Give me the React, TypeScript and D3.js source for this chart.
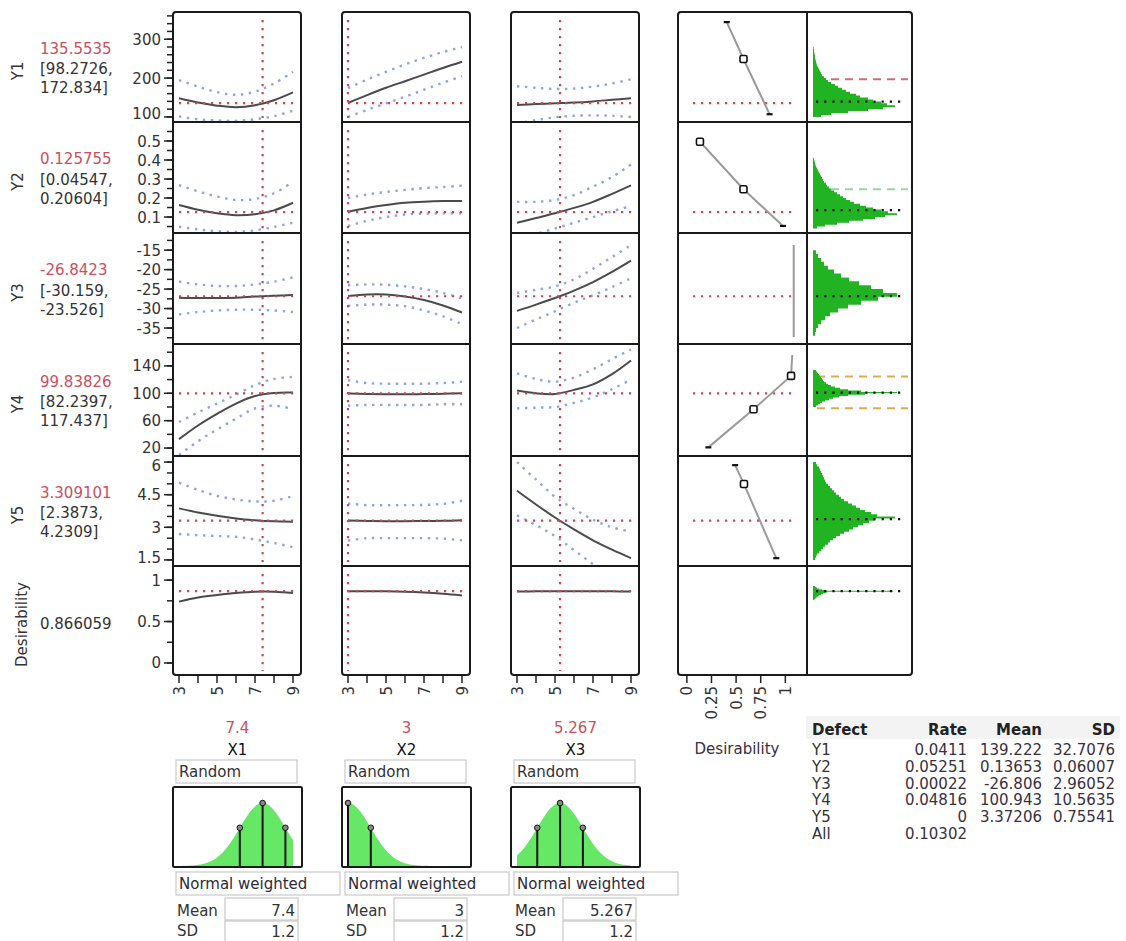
import React from "react";
import * as d3 from "d3";

const FONT = "'DejaVu Sans', Verdana, sans-serif";

// ---------------- data ----------------
const RESPONSES = ["Y1", "Y2", "Y3", "Y4", "Y5", "Desirability"];
const CURRENT_VALUES = [135.5535, 0.125755, -26.8423, 99.83826, 3.309101, 0.866059];
const CURRENT_LABELS = ["135.5535", "0.125755", "-26.8423", "99.83826", "3.309101", "0.866059"];
const INTERVAL_LABELS = [
  ["[98.2726,", "172.834]"],
  ["[0.04547,", "0.20604]"],
  ["[-30.159,", "-23.526]"],
  ["[82.2397,", "117.437]"],
  ["[2.3873,", "4.2309]"],
  [],
];
const Y_DOMAINS = [[87, 370], [0.016, 0.6], [-39.1, -10.6], [8.4, 172], [1.22, 6.28], [-0.145, 1.17]];
const Y_MAJOR_TICKS = [
  [100, 200, 300],
  [0.1, 0.2, 0.3, 0.4, 0.5],
  [-35, -30, -25, -20, -15],
  [20, 60, 100, 140],
  [1.5, 3, 4.5, 6],
  [0, 0.5, 1],
];
const Y_MINOR_STEPS = [20, 0.05, 2.5, 20, 0.5, 0.25];

const FACTORS = ["X1", "X2", "X3"];
const FACTOR_SETTINGS = [7.4, 3, 5.267];
const FACTOR_LABELS = ["7.4", "3", "5.267"];
const FACTOR_MEANS = [7.4, 3, 5.267];
const FACTOR_SDS = [1.2, 1.2, 1.2];
const FACTOR_MEAN_TEXT = ["7.4", "3", "5.267"];
const FACTOR_SD_TEXT = ["1.2", "1.2", "1.2"];
const X_GRID = [3, 4, 5, 6, 7, 8, 9];
const X_TICKS = [3, 4, 5, 6, 7, 8, 9];
const X_TICK_LABELS = [3, 5, 7, 9];

// profile traces: one row per factor (X1, X2, X3), values at X_GRID
const Y1_PRED = [[148, 137, 129, 125, 130, 143, 163], [136, 156, 175, 192, 209, 226, 242], [131, 133, 135, 137, 140, 144, 148]];
const Y1_HI = [[195, 178, 164, 157, 165, 186, 216], [174, 196, 216, 235, 252, 267, 280], [179, 175, 172, 173, 178, 186, 197]];
const Y1_LO = [[101, 94, 91, 90, 94, 102, 116], [100, 118, 135, 152, 170, 188, 205], [83, 92, 99, 103, 104, 103, 100]];

const Y2_PRED = [[0.163, 0.138, 0.12, 0.11, 0.115, 0.135, 0.175], [0.128, 0.148, 0.163, 0.175, 0.181, 0.184, 0.184], [0.07, 0.095, 0.12, 0.148, 0.18, 0.222, 0.267]];
const Y2_HI = [[0.268, 0.235, 0.208, 0.19, 0.195, 0.225, 0.286], [0.2, 0.218, 0.232, 0.243, 0.252, 0.258, 0.265], [0.18, 0.18, 0.19, 0.215, 0.26, 0.31, 0.377]];
const Y2_LO = [[0.049, 0.035, 0.025, 0.022, 0.03, 0.048, 0.07], [0.053, 0.08, 0.1, 0.113, 0.118, 0.12, 0.12], [-0.03, 0.01, 0.04, 0.07, 0.1, 0.13, 0.158]];

const Y3_PRED = [[-27.2, -27.3, -27.3, -27.2, -26.9, -26.7, -26.5], [-26.8, -26.4, -26.4, -26.9, -27.8, -29.2, -31], [-30.6, -29, -27.3, -25.4, -23.2, -20.6, -17.7]];
const Y3_HI = [[-23.1, -23.8, -24.2, -24.2, -23.8, -23.1, -22], [-24, -23.8, -23.9, -24.3, -25, -26, -27.4], [-26, -25.2, -24.3, -22.5, -19.8, -16.8, -13.7]];
const Y3_LO = [[-31.5, -30.9, -30.5, -30.3, -30.3, -30.5, -30.9], [-29.3, -29, -29, -29.4, -30.5, -32, -34], [-35, -32.8, -30.7, -28.5, -26.6, -24.5, -22.2]];

const Y4_PRED = [[33, 53, 70, 85, 96, 100.5, 101], [99.8, 99, 98.5, 98.5, 98.8, 99.3, 100], [104, 100, 99, 105, 113, 128, 148]];
const Y4_HI = [[58, 72, 85, 98, 112, 121, 124], [119, 115, 114, 114, 114, 115, 117], [129, 121, 117, 123, 135, 150, 164]];
const Y4_LO = [[10, 30, 47, 63, 78, 82, 77], [82, 83, 83, 83, 83, 84, 84], [78, 79, 80, 86, 94, 106, 120]];

const Y5_PRED = [[3.87, 3.68, 3.53, 3.41, 3.33, 3.28, 3.26], [3.31, 3.29, 3.28, 3.28, 3.29, 3.3, 3.33], [4.68, 4.05, 3.45, 2.9, 2.4, 1.97, 1.58]];
const Y5_HI = [[5.05, 4.72, 4.45, 4.28, 4.19, 4.22, 4.44], [4.1, 4.02, 4.02, 4.02, 4.03, 4.08, 4.22], [6.0, 5.2, 4.4, 3.85, 3.35, 3.0, 2.8]];
const Y5_LO = [[2.69, 2.64, 2.6, 2.56, 2.44, 2.28, 2.08], [2.39, 2.5, 2.5, 2.5, 2.5, 2.48, 2.4], [3.55, 3.1, 2.6, 1.95, 1.3, 0.6, 0.0]];

const DES_PRED = [[0.74, 0.79, 0.82, 0.845, 0.86, 0.86, 0.845], [0.866, 0.866, 0.865, 0.86, 0.85, 0.835, 0.815], [0.862, 0.864, 0.866, 0.866, 0.865, 0.864, 0.862]];

// desirability functions (desirability, response value) per response
const DES_FN_D = [[0.405, 0.575, 0.84], [0.133, 0.575, 0.976], [1.085, 1.085], [0.218, 0.677, 1.058, 1.07], [0.49, 0.58, 0.908]];
const DES_FN_V = [[344, 249, 107], [0.496, 0.246, 0.053], [-13.7, -37.3], [21, 76.6, 125.4, 156], [5.86, 4.99, 1.58]];
const DES_FN_MARK = [["end", "box", "end"], ["box", "box", "end"], ["", ""], ["end", "box", "box", ""], ["end", "box", "end"]];
const DES_TICKS = [0, 0.25, 0.5, 0.75, 1];
const DES_TICK_LABELS = ["0", "0.25", "0.5", "0.75", "1"];

// simulated histograms
const HIST_START = [100, 0.04, -37, 80, 1.5, 0.76];
const HIST_STEP = [5, 0.01, 1, 2, 0.1, 0.01];
const Y1_HIST = [8, 18, 35, 55, 70, 82, 74, 68, 60, 55, 47, 43, 37, 33, 29, 25, 22, 18, 15, 13, 11, 9, 8, 7, 6, 5, 4, 3.5, 3, 2.5, 2, 2, 1.5, 1, 1, 0.5];
const Y2_HIST = [4, 12, 24, 36, 50, 62, 72, 84, 75, 68, 60, 53, 47, 41, 37, 33, 30, 27, 24, 21, 18, 16, 14, 13, 11, 10, 9, 8, 7, 6, 5, 4, 3, 2.5, 2, 1.5, 1];
const Y3_HIST = [2, 3, 5, 8, 12, 17, 25, 35, 48, 65, 84, 70, 58, 46, 36, 28, 21, 15, 11, 8, 5, 3];
const Y4_HIST = [3, 5, 7, 9, 12, 16, 20, 26, 35, 52, 84, 48, 35, 27, 22, 18, 15, 13, 11, 10, 9, 8, 7, 6, 5, 4, 3];
const Y5_HIST = [2, 3, 4, 6, 8, 10, 12, 15, 17, 20, 23, 27, 31, 36, 40, 45, 50, 56, 62, 82, 64, 58, 52, 47, 43, 39, 35, 31, 28, 26, 23, 21, 19, 17, 15, 13, 12, 11, 10, 9, 8, 7, 6, 4, 3];
const DES_HIST = [1, 2, 3, 4, 5, 6, 8, 10, 12, 14, 80, 12, 9, 6, 4, 3, 2];
const HIST_MEANS = [139.222, 0.13653, -26.806, 100.943, 3.37206, 0.866059];
const SPEC_ROWS = [0, 1, 3, 3];
const SPEC_VALUES = [197, 0.246, 124.4, 78];
const SPEC_COLORS = ["#c8727e", "#9fd4a8", "#e2a94e", "#e2a94e"];

// defect table
const DEFECT_NAMES = ["Y1", "Y2", "Y3", "Y4", "Y5", "All"];
const DEFECT_RATES = ["0.0411", "0.05251", "0.00022", "0.04816", "0", "0.10302"];
const DEFECT_MEANS = ["139.222", "0.13653", "-26.806", "100.943", "3.37206", ""];
const DEFECT_SDS = ["32.7076", "0.06007", "2.96052", "10.5635", "0.75541", ""];

// ---------------- layout ----------------
const ROW_EDGES = [12, 122, 233, 344, 456, 566, 675];
const COL_LEFT = [173, 342, 511];
const COL_W = 128;
const DES_L = 678;
const DES_R = 807;
const HIST_R = 912;
const RED = "#c9505e";
const RED_LINE = "#c04a5c";
const BLUE = "#8fa2e2";
const TXT = "#333";

const PROFILES = [
  { pred: Y1_PRED, lo: Y1_LO, hi: Y1_HI },
  { pred: Y2_PRED, lo: Y2_LO, hi: Y2_HI },
  { pred: Y3_PRED, lo: Y3_LO, hi: Y3_HI },
  { pred: Y4_PRED, lo: Y4_LO, hi: Y4_HI },
  { pred: Y5_PRED, lo: Y5_LO, hi: Y5_HI },
  { pred: DES_PRED, lo: null as null | number[][], hi: null as null | number[][] },
];
const HISTS = [Y1_HIST, Y2_HIST, Y3_HIST, Y4_HIST, Y5_HIST, DES_HIST];

function yScale(r: number) {
  return d3.scaleLinear().domain(Y_DOMAINS[r]).range([ROW_EDGES[r + 1], ROW_EDGES[r]]);
}
function xScale(c: number) {
  return d3.scaleLinear().domain([3, 9]).range([COL_LEFT[c] + 6, COL_LEFT[c] + 120]);
}
const dScale = d3.scaleLinear().domain([-0.09, 1.22]).range([DES_L, DES_R]);
const histX = d3.scaleLinear().domain([0, 84]).range([813, 897]);

function minorTicks(r: number) {
  const [lo, hi] = Y_DOMAINS[r];
  const step = Y_MINOR_STEPS[r];
  return d3.range(Math.ceil(lo / step), Math.floor(hi / step) + 1).map((k) => +(k * step).toFixed(6));
}

export default function App() {
  const rows = d3.range(6);
  const cols = d3.range(3);

  const panels: React.ReactNode[] = [];
  rows.forEach((r) => {
    const y = yScale(r);
    cols.forEach((c) => {
      const x = xScale(c);
      const line = d3
        .line<number>()
        .x((_, i) => x(X_GRID[i]))
        .y((v) => y(v))
        .curve(d3.curveCatmullRom.alpha(0.5));
      const prof = PROFILES[r];
      const id = `clip-${r}-${c}`;
      const top = ROW_EDGES[r];
      const bot = ROW_EDGES[r + 1];
      const left = COL_LEFT[c];
      panels.push(
        <g key={id}>
          <clipPath id={id}>
            <rect x={left + 1} y={top + 1} width={COL_W - 2} height={bot - top - 2} />
          </clipPath>
          <g clipPath={`url(#${id})`}>
            {prof.hi && (
              <path d={line(prof.hi[c]) || ""} fill="none" stroke={BLUE} strokeWidth={2.4} strokeDasharray="2.4 5.6" />
            )}
            {prof.lo && (
              <path d={line(prof.lo[c]) || ""} fill="none" stroke={BLUE} strokeWidth={2.4} strokeDasharray="2.4 5.6" />
            )}
            <path d={line(prof.pred[c]) || ""} fill="none" stroke="#4a4a4a" strokeWidth={2} />
            <line
              x1={left + 6}
              x2={left + COL_W - 6}
              y1={y(CURRENT_VALUES[r])}
              y2={y(CURRENT_VALUES[r])}
              stroke={RED_LINE}
              strokeWidth={2.2}
              strokeDasharray="2.2 5.8"
            />
            <line
              x1={x(FACTOR_SETTINGS[c])}
              x2={x(FACTOR_SETTINGS[c])}
              y1={top + 8}
              y2={bot - 4}
              stroke={RED_LINE}
              strokeWidth={2.2}
              strokeDasharray="2.2 5.8"
            />
          </g>
        </g>
      );
    });
  });

  // desirability function column
  const desPanels: React.ReactNode[] = [];
  rows.slice(0, 5).forEach((r) => {
    const y = yScale(r);
    const pts = DES_FN_D[r].map((d, i) => [dScale(d), y(DES_FN_V[r][i])] as [number, number]);
    const ln = d3.line();
    desPanels.push(
      <g key={`des-${r}`}>
        <line
          x1={DES_L + 15}
          x2={DES_R - 15}
          y1={y(CURRENT_VALUES[r])}
          y2={y(CURRENT_VALUES[r])}
          stroke={RED_LINE}
          strokeWidth={2.2}
          strokeDasharray="2.2 5.8"
        />
        <path d={ln(pts) || ""} fill="none" stroke="#9a9a9a" strokeWidth={2} />
        {pts.map(([px, py], i) => {
          const m = DES_FN_MARK[r][i];
          if (m === "box")
            return (
              <rect key={i} x={px - 3.5} y={py - 3.5} width={7} height={7} rx={1.5} fill="#fff" stroke="#111" strokeWidth={1.6} />
            );
          if (m === "end")
            return <line key={i} x1={px - 3} x2={px + 3} y1={py} y2={py} stroke="#111" strokeWidth={2.2} />;
          return null;
        })}
      </g>
    );
  });

  // histograms
  const histPanels: React.ReactNode[] = rows.map((r) => {
    const y = yScale(r);
    const counts = HISTS[r];
    const start = HIST_START[r];
    const step = HIST_STEP[r];
    const x0 = histX(0);
    const p = d3.path();
    p.moveTo(x0, y(start));
    counts.forEach((cnt, i) => {
      const v0 = start + i * step;
      const v1 = v0 + step;
      p.lineTo(histX(cnt), y(v0));
      p.lineTo(histX(cnt), y(v1));
    });
    p.lineTo(x0, y(start + counts.length * step));
    p.closePath();
    return (
      <g key={`hist-${r}`}>
        <path d={p.toString()} fill="#22b322" />
        <line
          x1={816}
          x2={903}
          y1={y(HIST_MEANS[r])}
          y2={y(HIST_MEANS[r])}
          stroke="#111"
          strokeWidth={2.2}
          strokeDasharray="2.2 6"
        />
      </g>
    );
  });
  const specLines = SPEC_VALUES.map((v, i) => {
    const y = yScale(SPEC_ROWS[i]);
    return (
      <line
        key={`spec-${i}`}
        x1={817}
        x2={908}
        y1={y(v)}
        y2={y(v)}
        stroke={SPEC_COLORS[i]}
        strokeWidth={2}
        strokeDasharray="8 6"
      />
    );
  });

  // y axis (column 1)
  const yAxes = rows.map((r) => {
    const y = yScale(r);
    const majors = Y_MAJOR_TICKS[r];
    const top = ROW_EDGES[r];
    const bot = ROW_EDGES[r + 1];
    return (
      <g key={`ya-${r}`}>
        {minorTicks(r).map((t) => (
          <line key={`m${t}`} x1={167} x2={173} y1={y(t)} y2={y(t)} stroke="#222" strokeWidth={1.5} />
        ))}
        {majors.map((t) => {
          const ly = Math.max(top + 9, Math.min(bot - 9, y(t)));
          return (
            <g key={`M${t}`}>
              <line x1={164} x2={173} y1={y(t)} y2={y(t)} stroke="#222" strokeWidth={1.5} />
              <text x={161} y={ly + 5.5} textAnchor="end" fontSize={15} fill={TXT}>
                {String(t)}
              </text>
            </g>
          );
        })}
      </g>
    );
  });

  // x axes
  const xAxes = cols.map((c) => {
    const x = xScale(c);
    return (
      <g key={`xa-${c}`}>
        {X_TICKS.map((t) => (
          <line key={t} x1={x(t)} x2={x(t)} y1={675} y2={683} stroke="#222" strokeWidth={1.5} />
        ))}
        {X_TICK_LABELS.map((t) => (
          <text
            key={`l${t}`}
            transform={`translate(${x(t) + 5.5},686) rotate(-90)`}
            textAnchor="end"
            fontSize={15}
            fill={TXT}
          >
            {String(t)}
          </text>
        ))}
      </g>
    );
  });
  const desAxis = (
    <g>
      {DES_TICKS.map((t, i) => (
        <g key={t}>
          <line x1={dScale(t)} x2={dScale(t)} y1={675} y2={683} stroke="#222" strokeWidth={1.5} />
          <text transform={`translate(${dScale(t) + 5.5},686) rotate(-90)`} textAnchor="end" fontSize={15} fill={TXT}>
            {DES_TICK_LABELS[i]}
          </text>
        </g>
      ))}
      <text x={737} y={754} textAnchor="middle" fontSize={15} fill="#3a3040">
        Desirability
      </text>
    </g>
  );

  // frames
  const frame = (x0: number, x1: number, key: string) => (
    <g key={key}>
      <rect x={x0} y={ROW_EDGES[0]} width={x1 - x0} height={ROW_EDGES[6] - ROW_EDGES[0]} rx={3} fill="none" stroke="#1a1a1a" strokeWidth={2} />
      {ROW_EDGES.slice(1, 6).map((e) => (
        <line key={e} x1={x0} x2={x1} y1={e} y2={e} stroke="#1a1a1a" strokeWidth={2} />
      ))}
    </g>
  );

  // left labels
  const leftLabels = rows.map((r) => {
    const cy = (ROW_EDGES[r] + ROW_EDGES[r + 1]) / 2;
    const hasInt = INTERVAL_LABELS[r].length > 0;
    return (
      <g key={`lab-${r}`}>
        <text
          transform={`translate(${hasInt ? 23 : 27},${cy + 4}) rotate(-90)`}
          textAnchor="middle"
          fontSize={15}
          fill={TXT}
        >
          {RESPONSES[r]}
        </text>
        {hasInt ? (
          <>
            <text x={40} y={cy - 13.5} fontSize={15} fill={RED}>
              {CURRENT_LABELS[r]}
            </text>
            <text x={40} y={cy + 7} fontSize={15} fill={TXT}>
              {INTERVAL_LABELS[r][0]}
            </text>
            <text x={40} y={cy + 26} fontSize={15} fill={TXT}>
              {INTERVAL_LABELS[r][1]}
            </text>
          </>
        ) : (
          <text x={40} y={cy + 8} fontSize={15} fill={TXT}>
            {CURRENT_LABELS[r]}
          </text>
        )}
      </g>
    );
  });

  // factor controls
  const factorBlocks = cols.map((c) => {
    const left = COL_LEFT[c];
    const x = xScale(c);
    const m = FACTOR_MEANS[c];
    const s = FACTOR_SDS[c];
    const base = 866;
    const hgt = 63;
    const dens = (v: number) => Math.exp(-0.5 * ((v - m) / s) ** 2);
    const samples = d3.range(0, 121).map((i) => 3 + i * 0.05);
    const area = d3
      .area<number>()
      .x((v) => x(v))
      .y0(base)
      .y1((v) => base - hgt * dens(v));
    const stems = [m - s, m, m + s].filter((v) => v >= 3 && v <= 9);
    const cx = left + COL_W / 2 + 0.5;
    return (
      <g key={`f-${c}`}>
        <text x={cx} y={733} textAnchor="middle" fontSize={15} fill={RED}>
          {FACTOR_LABELS[c]}
        </text>
        <text x={cx} y={755} textAnchor="middle" fontSize={15} fill="#111">
          {FACTORS[c]}
        </text>
        <rect x={left + 3} y={760} width={121} height={23} fill="#fff" stroke="#c8c8c8" strokeWidth={1.2} />
        <text x={left + 6} y={777} fontSize={15} fill={TXT}>
          Random
        </text>
        <clipPath id={`dclip-${c}`}>
          <rect x={left + 1} y={788} width={127} height={78} />
        </clipPath>
        <path d={area(samples) || ""} fill="#66e866" clipPath={`url(#dclip-${c})`} />
        {stems.map((v) => (
          <g key={v}>
            <line x1={x(v)} x2={x(v)} y1={base} y2={base - hgt * dens(v)} stroke="#111" strokeWidth={2} />
            <circle cx={x(v)} cy={base - hgt * dens(v)} r={2.8} fill="#888" stroke="#111" strokeWidth={1} />
          </g>
        ))}
        <rect x={left} y={787} width={129} height={80} fill="none" stroke="#1a1a1a" strokeWidth={2} rx={1.5} />
        <rect x={left + 3} y={872} width={164} height={23} fill="#fff" stroke="#c8c8c8" strokeWidth={1.2} />
        <text x={left + 6} y={889} fontSize={15} fill="#2e2a36">
          Normal weighted
        </text>
        <text x={left + 4} y={916} fontSize={15} fill={TXT}>
          Mean
        </text>
        <rect x={left + 52} y={898} width={73} height={22} fill="#fff" stroke="#c8c8c8" strokeWidth={1.2} />
        <text x={left + 122} y={916} textAnchor="end" fontSize={15} fill={TXT}>
          {FACTOR_MEAN_TEXT[c]}
        </text>
        <text x={left + 4} y={936} fontSize={15} fill={TXT}>
          SD
        </text>
        <rect x={left + 52} y={921} width={73} height={22} fill="#fff" stroke="#c8c8c8" strokeWidth={1.2} />
        <text x={left + 122} y={937} textAnchor="end" fontSize={15} fill={TXT}>
          {FACTOR_SD_TEXT[c]}
        </text>
      </g>
    );
  });

  // defect table
  const rowY = (i: number) => 755 + i * 16.8;
  const table = (
    <g>
      <rect x={806} y={716} width={314} height={23} fill="#f3f3f3" />
      <text x={812} y={735} fontSize={15} fontWeight="bold" fill="#222">
        Defect
      </text>
      <text x={967} y={735} textAnchor="end" fontSize={15} fontWeight="bold" fill="#222">
        Rate
      </text>
      <text x={1042} y={735} textAnchor="end" fontSize={15} fontWeight="bold" fill="#222">
        Mean
      </text>
      <text x={1115} y={735} textAnchor="end" fontSize={15} fontWeight="bold" fill="#222">
        SD
      </text>
      {DEFECT_NAMES.map((n, i) => (
        <g key={n}>
          <text x={812} y={rowY(i)} fontSize={15} fill={TXT}>
            {n}
          </text>
          <text x={967} y={rowY(i)} textAnchor="end" fontSize={15} fill="#3a3040">
            {DEFECT_RATES[i]}
          </text>
          <text x={1042} y={rowY(i)} textAnchor="end" fontSize={15} fill="#3a3040">
            {DEFECT_MEANS[i]}
          </text>
          <text x={1115} y={rowY(i)} textAnchor="end" fontSize={15} fill="#3a3040">
            {DEFECT_SDS[i]}
          </text>
        </g>
      ))}
    </g>
  );

  return (
    <svg
      width={1126}
      height={941}
      style={{ position: "absolute", left: 0, top: 0, background: "#fff" }}
      fontFamily={FONT}
    >
      <rect x={0} y={0} width={1126} height={941} fill="#fff" />
      {leftLabels}
      {panels}
      {desPanels}
      {specLines}
      {histPanels}
      {yAxes}
      {xAxes}
      {desAxis}
      {cols.map((c) => frame(COL_LEFT[c], COL_LEFT[c] + COL_W, `fr-${c}`))}
      {frame(DES_L, HIST_R, "fr-des")}
      <line x1={DES_R} x2={DES_R} y1={ROW_EDGES[0]} y2={ROW_EDGES[6]} stroke="#1a1a1a" strokeWidth={2} />
      {factorBlocks}
      {table}
    </svg>
  );
}
